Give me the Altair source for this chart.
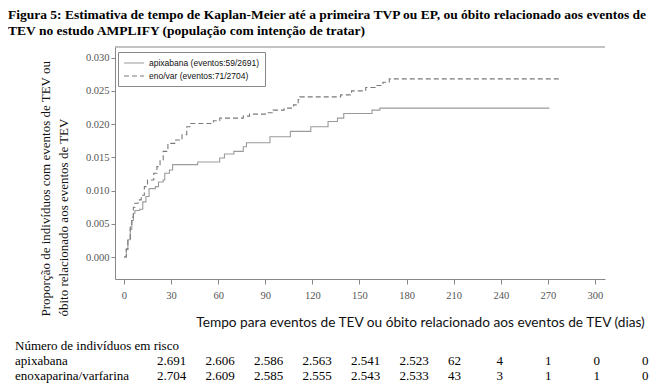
import altair as alt
import pandas as pd

# ---- Kaplan-Meier step data (day, cumulative proportion) ----
apix_days = [0, 1.5, 2.5, 4, 5, 6, 7, 10, 12, 14, 16, 20, 22, 25, 26, 29, 31, 47, 61, 64, 70,
             76, 78, 93, 106, 119, 130, 136, 140, 158, 163, 271]
apix_vals = [0, 0.0012, 0.0026, 0.0042, 0.0055, 0.0066, 0.0070, 0.0072, 0.0083, 0.0091, 0.0103,
             0.0106, 0.0113, 0.0116, 0.0126, 0.0131, 0.0139, 0.0143, 0.0149, 0.0155, 0.0159,
             0.0166, 0.0172, 0.0181, 0.0189, 0.0196, 0.0204, 0.0209, 0.0216, 0.0221, 0.0224, 0.0224]

enox_days = [0, 1.5, 2.5, 4, 5, 6, 7, 9, 11, 13, 15, 19, 21, 23, 25, 28, 33, 37, 40, 42, 57, 61,
             76, 80, 91, 95, 102, 108, 111, 112, 138, 145, 154, 160, 165, 169, 277]
enox_vals = [0, 0.0012, 0.0026, 0.0045, 0.0060, 0.0075, 0.0081, 0.0086, 0.0093, 0.0106, 0.0116,
             0.0126, 0.0136, 0.0146, 0.0159, 0.0171, 0.0176, 0.0184, 0.0196, 0.0201, 0.0205,
             0.0209, 0.0212, 0.0215, 0.0217, 0.0221, 0.0224, 0.0229, 0.0237, 0.0241, 0.0244,
             0.0250, 0.0255, 0.0258, 0.0263, 0.0268, 0.0268]

series_names = ["apixabana (eventos:59/2691)", "eno/var (eventos:71/2704)"]

x_ticks = [0, 30, 60, 90, 120, 150, 180, 210, 240, 270, 300]
y_ticks = [0.0, 0.005, 0.010, 0.015, 0.020, 0.025, 0.030]

# ---- risk table ----
risk_header = "Número de indivíduos em risco"
risk_rows = ["apixabana", "enoxaparina/varfarina"]
apix_risk = ["2.691", "2.606", "2.586", "2.563", "2.541", "2.523", "62", "4", "1", "0", "0"]
enox_risk = ["2.704", "2.609", "2.585", "2.555", "2.543", "2.533", "43", "3", "1", "1", "0"]

title_lines = [
    "Figura 5: Estimativa de tempo de Kaplan-Meier até a primeira TVP ou EP, ou óbito relacionado aos eventos de",
    "TEV no estudo AMPLIFY (população com intenção de tratar)",
]
y_title = ["Proporção de indivíduos com eventos de TEV ou", "óbito relacionado aos eventos de TEV"]
x_title = "Tempo para eventos de TEV ou óbito relacionado aos eventos de TEV (dias)"

W, H = 490, 232

km = pd.concat([
    pd.DataFrame({"day": apix_days, "val": apix_vals, "serie": series_names[0]}),
    pd.DataFrame({"day": enox_days, "val": enox_vals, "serie": series_names[1]}),
])

legend = alt.Legend(
    title=None, orient="none", legendX=3, legendY=5, direction="vertical",
    symbolType="M-1,0H3", symbolSize=100, symbolStrokeWidth=1.2,
    labelFont="Liberation Sans", labelFontSize=8.5, labelColor="#111", labelOffset=14,
    strokeColor="#888", fillColor="white", padding=5, rowPadding=2, cornerRadius=0,
)

lines = alt.Chart(km).mark_line(interpolate="step-after", strokeWidth=1.1).encode(
    x=alt.X("day:Q",
            scale=alt.Scale(domain=[-5.7, 306.4], nice=False, zero=False),
            axis=alt.Axis(values=x_ticks, title=x_title, titleFont="Lato", titleFontSize=13.7,
                          titleFontWeight="normal", titleColor="#111", titleX=305, titleY=36,
                          titleBaseline="top", tickSize=5, labelPadding=6)),
    y=alt.Y("val:Q",
            scale=alt.Scale(domain=[-0.0033, 0.0316], nice=False, zero=False),
            axis=alt.Axis(values=y_ticks, format=".3f", title=y_title,
                          titleFont="Liberation Serif", titleFontSize=13, titleFontWeight="normal",
                          titleColor="#111", titleAngle=270, titleAlign="left",
                          titleBaseline="top", titleX=-76, titleY=269, titleLineHeight=18,
                          tickSize=4, labelPadding=2)),
    color=alt.Color("serie:N", scale=alt.Scale(domain=series_names, range=["#9a9a9a", "#7a7a7a"]),
                    legend=legend),
    strokeDash=alt.StrokeDash("serie:N", scale=alt.Scale(domain=series_names, range=[[1, 0], [5, 3]]),
                              legend=legend),
)

top_border = alt.Chart(pd.DataFrame({"a": [0]})).mark_rule(color="#888", strokeWidth=1).encode(
    x=alt.value(0), x2=alt.value(W), y=alt.value(0)
)

# risk table layers
tab = pd.DataFrame({
    "col": list(range(11)) * 2,
    "row": [1] * 11 + [2] * 11,
    "txt": apix_risk + enox_risk,
})
lab = pd.DataFrame({"row": [0, 1, 2], "txt": [risk_header] + risk_rows})

row_scale = alt.Scale(domain=[0, 2], range=[299, 329])

nums = alt.Chart(tab).mark_text(align="left", baseline="middle", font="Liberation Serif",
                                fontSize=13, color="black").encode(
    x=alt.X("col:Q", scale=alt.Scale(domain=[0, 10], range=[42, 527]), axis=None),
    y=alt.Y("row:Q", scale=row_scale, axis=None),
    text="txt:N",
)
labels = alt.Chart(lab).mark_text(align="left", baseline="middle", font="Liberation Serif",
                                  fontSize=13, color="black").encode(
    x=alt.value(-100),
    y=alt.Y("row:Q", scale=row_scale, axis=None),
    text="txt:N",
)

chart = alt.layer(lines, top_border, nums, labels).resolve_scale(
    x="independent", y="independent"
).properties(
    width=W, height=H, padding=0,
    title=alt.TitleParams(text=title_lines, anchor="start", frame="group", dx=-107, offset=9,
                          font="Liberation Serif", fontSize=13.5, fontWeight="bold",
                          lineHeight=16, color="black"),
).configure_view(stroke="transparent").configure_axis(
    grid=False, domainColor="#888", tickColor="#888", labelColor="#555",
    labelFont="Liberation Sans Narrow", labelFontSize=10.5,
)

chart.save("out.html", embed_options={"renderer": "svg", "actions": False})
